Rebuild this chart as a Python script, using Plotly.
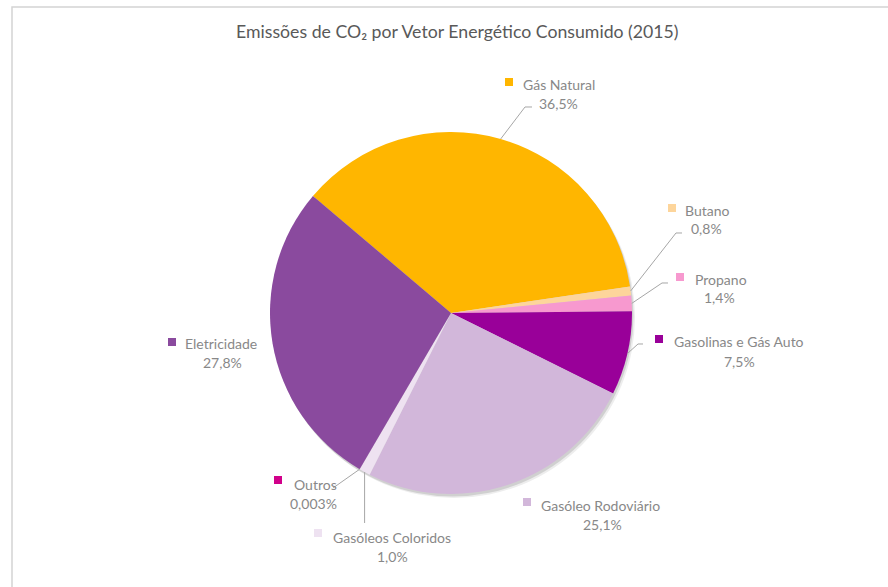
import math
import plotly.graph_objects as go

# --- data -------------------------------------------------------------
categories = ["Gás Natural", "Butano", "Propano", "Gasolinas e Gás Auto",
              "Gasóleo Rodoviário", "Gasóleos Coloridos", "Outros", "Eletricidade"]
shares = [36.5, 0.8, 1.4, 7.5, 25.1, 1.0, 0.003, 27.8]
decimals = [1, 1, 1, 1, 1, 1, 3, 1]
colors = ["#FFB600", "#FDD59B", "#F799CF", "#990099",
          "#D2B7DA", "#EEE2F1", "#D1008A", "#8A4A9E"]

TITLE = "Emissões de CO₂ por Vetor Energético Consumido (2015)"

# --- layout helpers (pixel positions on an 888 x 587 canvas) ----------
W, H = 888, 587
CX, CY, R = 451, 313, 181
ROTATION = -49.7
FONT = "Lato"
TEXT_COLOR = "#888888"
LABEL_SIZE = 14
TITLE_SIZE = 17.7


def px(x):
    return x / W


def py(y):
    return 1 - y / H


# label placement: square (left, top), name text left/mid-y, pct centre/mid-y,
# and the elbow points of the leader line (empty = no leader)
label_layout = {
    "Gás Natural":          dict(sq=(505, 78), name=(521, 84), pct=(558, 103), elbow=[(532, 107), (525, 107)]),
    "Butano":               dict(sq=(668, 204), name=(683, 210), pct=(706, 229), elbow=[(682, 233), (676, 233)]),
    "Propano":              dict(sq=(676, 273), name=(693, 279), pct=(719, 298), elbow=[(668, 283), (662, 283)]),
    "Gasolinas e Gás Auto": dict(sq=(655, 335), name=(672, 341), pct=(739, 361), elbow=[(643, 344), (638, 344)]),
    "Gasóleo Rodoviário":   dict(sq=(523, 498), name=(539, 505), pct=(602, 524), elbow=[]),
    "Gasóleos Coloridos":   dict(sq=(314, 529), name=(331, 537), pct=(392, 556), elbow=["vertical", 523]),
    "Outros":               dict(sq=(274, 476), name=(292, 484), pct=(313, 503), elbow=[(333, 488)]),
    "Eletricidade":         dict(sq=(168, 338), name=(183, 343), pct=(222, 362), elbow=[]),
}


def fmt_pct(v, d):
    return f"{v:.{d}f}".replace(".", ",") + "%"


fig = go.Figure()

# soft drop shadow under the pie
for dx, dy, alpha in [(3, 4, 0.07), (1.5, 2.5, 0.12)]:
    fig.add_trace(go.Pie(
        values=[1], labels=["shadow"], sort=False,
        marker=dict(colors=[f"rgba(0,0,0,{alpha})"], line=dict(width=0)),
        textinfo="none", hoverinfo="skip", showlegend=False,
        domain=dict(x=[px(CX - R + dx), px(CX + R + dx)],
                    y=[py(CY + R + dy), py(CY - R + dy)]),
    ))

fig.add_trace(go.Pie(
    labels=categories, values=shares, sort=False, direction="clockwise",
    rotation=ROTATION,
    marker=dict(colors=colors, line=dict(width=0)),
    textinfo="none", showlegend=False,
    domain=dict(x=[px(CX - R), px(CX + R)], y=[py(CY + R), py(CY - R)]),
))

shapes = []
annotations = []

# chart frame
shapes.append(dict(type="rect", xref="paper", yref="paper",
                   x0=px(12), x1=px(W + 20), y0=py(H + 20), y1=py(7),
                   line=dict(color="#D4D4D4", width=1.5), fillcolor="rgba(0,0,0,0)",
                   layer="below"))

total = sum(shares)
cum = 0.0
for cat, val, dec, col in zip(categories, shares, decimals, colors):
    mid = ROTATION + 360.0 * (cum + val / 2) / total
    cum += val
    a = math.radians(mid)
    ex, ey = CX + R * math.sin(a), CY - R * math.cos(a)
    lay = label_layout[cat]

    # leader line from label to slice edge
    elbow = lay["elbow"]
    if elbow:
        if elbow[0] == "vertical":
            pts = [(ex, elbow[1]), (ex, ey)]
        else:
            pts = list(elbow) + [(ex, ey)]
        path = "M " + " L ".join(f"{px(x):.5f},{py(y):.5f}" for x, y in pts)
        shapes.append(dict(type="path", xref="paper", yref="paper", path=path,
                           line=dict(color="#A6A6A6", width=1)))

    # colour key square
    sx, sy = lay["sq"]
    shapes.append(dict(type="rect", xref="paper", yref="paper",
                       x0=px(sx), x1=px(sx + 8), y0=py(sy + 8), y1=py(sy),
                       fillcolor=col, line=dict(width=0)))

    nx, ny = lay["name"]
    annotations.append(dict(x=px(nx), y=py(ny), xref="paper", yref="paper",
                            text=cat, showarrow=False, xanchor="left", yanchor="middle",
                            font=dict(family=FONT, size=LABEL_SIZE, color=TEXT_COLOR)))
    cxp, cyp = lay["pct"]
    annotations.append(dict(x=px(cxp), y=py(cyp), xref="paper", yref="paper",
                            text=fmt_pct(val, dec), showarrow=False,
                            xanchor="center", yanchor="middle",
                            font=dict(family=FONT, size=LABEL_SIZE, color=TEXT_COLOR)))

annotations.append(dict(x=px(458), y=py(31), xref="paper", yref="paper",
                        text=TITLE, showarrow=False, xanchor="center", yanchor="middle",
                        font=dict(family=FONT, size=TITLE_SIZE, color="#595959")))

fig.update_layout(
    width=W, height=H,
    margin=dict(l=0, r=0, t=0, b=0),
    paper_bgcolor="#FFFFFF", plot_bgcolor="#FFFFFF",
    shapes=shapes, annotations=annotations,
    showlegend=False,
)

fig.write_html("out.html")
